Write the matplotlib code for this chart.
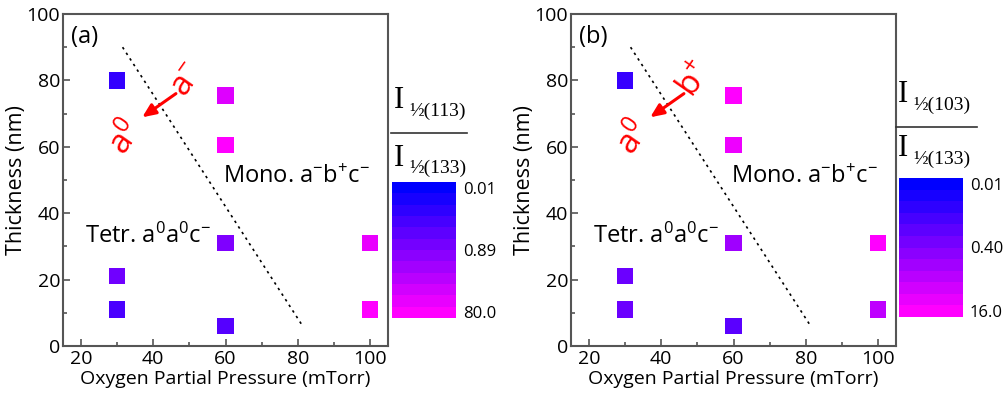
import numpy as np
import matplotlib
matplotlib.use("Agg")
import matplotlib.pyplot as plt
from matplotlib.colors import LinearSegmentedColormap, LogNorm
from matplotlib.cm import ScalarMappable

plt.rcParams['font.family'] = ['Open Sans', 'DejaVu Sans']
plt.rcParams['mathtext.fontset'] = 'custom'
plt.rcParams['mathtext.rm'] = 'Open Sans'
plt.rcParams['mathtext.it'] = 'Open Sans'

# sample positions (same for both panels)
pressure = [30, 30, 30, 60, 60, 60, 60, 100, 100]
thickness = [80, 21, 11, 75.5, 60.5, 31, 6, 31, 11]

# intensity ratios
ratio_a = [0.06, 0.52, 0.135, 25, 80, 0.89, 0.2, 36, 80]
ratio_b = [0.05, 0.22, 0.22, 16, 9.6, 1.0, 0.135, 16, 2.5]

lims_a = (0.01, 80.0)
lims_b = (0.01, 16.0)
cb_labels_a = ['0.01', '0.89', '80.0']
cb_labels_b = ['0.01', '0.40', '16.0']

x_ticks = [20, 40, 60, 80, 100]
y_ticks = [0, 20, 40, 60, 80, 100]

W, H = 1005, 398
fig = plt.figure(figsize=(W / 100, H / 100), dpi=100)

cmap = LinearSegmentedColormap.from_list('bm', ['#0000ff', '#ff00ff'])
cmap_bands = LinearSegmentedColormap.from_list('bm12', ['#0000ff', '#ff00ff'], N=12)
spine_col = '#555555'


def px_box(x0, y0, x1, y1):
    return [x0 / W, 1 - y1 / H, (x1 - x0) / W, (y1 - y0) / H]


def fx(px):
    return px / W


def fy(py):
    return 1 - py / H


def draw_panel(off, ratios, lims, cb_labels, tag, label_top, arrow_word):
    ax = fig.add_axes(px_box(63 + off, 14, 388 + off, 346))
    norm = LogNorm(vmin=lims[0], vmax=lims[1])
    ax.scatter(pressure, thickness, c=ratios, cmap=cmap, norm=norm,
               marker='s', s=140, edgecolors='none', zorder=3)
    ax.set_xticks(x_ticks)
    ax.set_yticks(y_ticks)
    ax.set_xticks([30, 50, 70, 90], minor=True)
    ax.set_yticks(np.arange(10, 100, 20), minor=True)
    ax.set_xlim(15, 105)
    ax.set_ylim(0, 100)
    ax.tick_params(which='both', direction='in', colors=spine_col,
                   labelcolor='black', labelsize=14, width=1.2)
    ax.tick_params(which='major', length=5)
    ax.tick_params(which='minor', length=3)
    ax.tick_params(axis='x', pad=3)
    ax.tick_params(axis='y', pad=2)
    for s in ax.spines.values():
        s.set_color(spine_col)
        s.set_linewidth(1.5)
    ax.set_xlabel('Oxygen Partial Pressure (mTorr)', fontsize=14, labelpad=1)
    ax.set_ylabel('Thickness (nm)', fontsize=15.5, labelpad=0)

    ax.plot([31.5, 81.2], [90, 6.3], ls=(0, (1.5, 2.5)), color='black', lw=1.2)
    ax.text(17.3, 93, tag, fontsize=17, va='center', ha='left')
    ax.text(59.3, 51, r'Mono. a$^{-}$b$^{+}$c$^{-}$', fontsize=17, va='center')
    ax.text(21.0, 33, r'Tetr. a$^{0}$a$^{0}$c$^{-}$', fontsize=17, va='center')

    ax.annotate('', xy=(36.3, 68.4), xytext=(46.9, 76.5),
                arrowprops=dict(arrowstyle='-|>,head_length=0.8,head_width=0.35',
                                color='red', lw=2.2))
    ax.text(32.5, 62.5, r'a$^{0}$', color='red', fontsize=24, rotation=55,
            ha='center', va='center')
    ax.text(49.5, 80, arrow_word, color='red', fontsize=24, rotation=55,
            ha='center', va='center')

    # colour bar box
    cb = cb_boxes[tag]
    cax = fig.add_axes(px_box(*cb))
    sm = ScalarMappable(norm=norm, cmap=cmap_bands)
    bar = fig.colorbar(sm, cax=cax)
    bar.outline.set_visible(False)
    cax.invert_yaxis()
    half = (np.log10(lims[1]) - np.log10(lims[0])) / 24
    tpos = [lims[0] * 10 ** half, np.sqrt(lims[0] * lims[1]), lims[1] / 10 ** half]
    bar.set_ticks(tpos)
    bar.set_ticklabels(cb_labels)
    cax.minorticks_off()
    cax.tick_params(length=0, labelsize=12, pad=5)

    # fraction title above the bar
    t = frac_pos[tag]
    fig.text(fx(t[0]), fy(t[1]), 'I', family='Liberation Serif', fontsize=22,
             va='center', ha='left')
    fig.text(fx(t[0] + 15), fy(t[1] + 10), '\u00bd' + label_top,
             family='Liberation Serif', fontsize=14, va='center', ha='left')
    fig.add_artist(plt.Line2D([fx(t[2]), fx(t[3])], [fy(t[4]), fy(t[4])],
                              color='#333333', lw=1.2))
    fig.text(fx(t[0]), fy(t[5]), 'I', family='Liberation Serif', fontsize=22,
             va='center', ha='left')
    fig.text(fx(t[0] + 15), fy(t[5] + 10), '\u00bd(133)',
             family='Liberation Serif', fontsize=14, va='center', ha='left')
    return ax


cb_boxes = {'(a)': (392, 182, 456, 318), '(b)': (899, 178, 963, 317)}
# x of I, y of top I, line x0, line x1, line y, y of bottom I
frac_pos = {'(a)': (394, 101, 391, 467, 133, 158),
            '(b)': (898, 95, 896, 977, 127, 149)}

draw_panel(0, ratio_a, lims_a, cb_labels_a, '(a)', '(113)', r'a$^{-}$')
draw_panel(508, ratio_b, lims_b, cb_labels_b, '(b)', '(103)', r'b$^{+}$')

fig.savefig('out.png', dpi=100)
